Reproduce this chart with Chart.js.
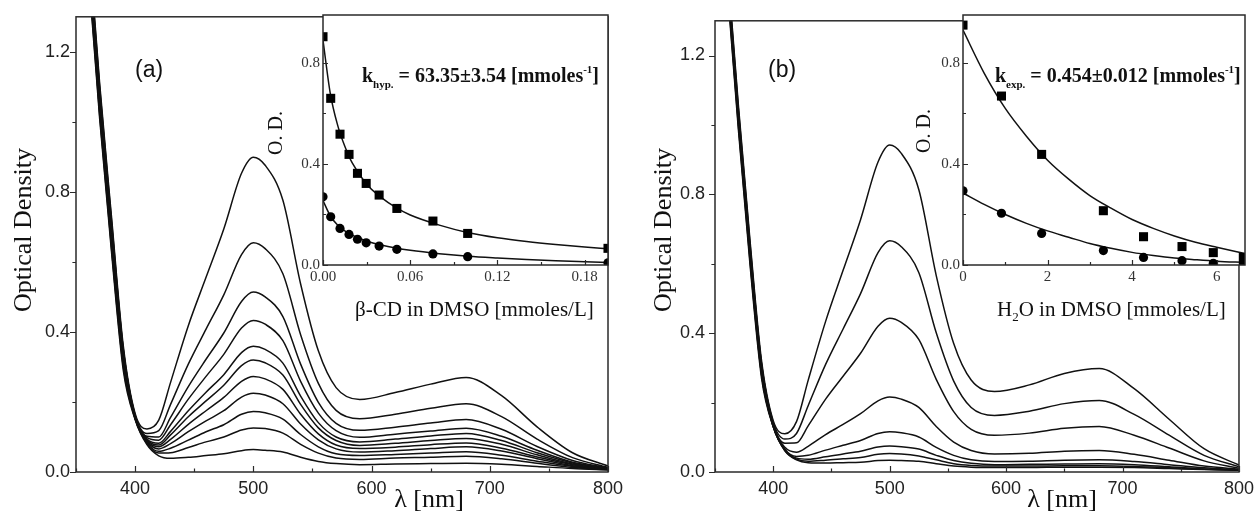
<!DOCTYPE html>
<html>
<head>
<meta charset="utf-8">
<script src="https://cdn.jsdelivr.net/npm/chart.js@4.4.1/dist/chart.umd.min.js"></script>
<style>
  body { margin: 0; background: #fff; }
  #wrap { position: relative; width: 1260px; height: 516px; background: #fff; }
  canvas { position: absolute; top: 0; }
</style>
</head>
<body>
<div id="wrap">
  <canvas id="mainA" width="630" height="516" style="left:0"></canvas>
  <canvas id="mainB" width="630" height="516" style="left:630px"></canvas>
  <canvas id="insetA" width="365" height="330" style="left:255px"></canvas>
  <canvas id="insetB" width="362" height="330" style="left:895px"></canvas>
</div>
<script>
// wavelengths (nm) shared by every spectrum
const lambda = [350, 360, 370, 380, 390, 400, 410, 420, 430, 445, 460, 475, 490, 500, 510, 525, 540, 555, 570, 590, 620, 650, 680, 710, 740, 770, 800];

// panel (a) spectra, top to bottom
const odA1 = [1.95, 1.55, 1.11, 0.73, 0.36, 0.167, 0.123, 0.148, 0.256, 0.418, 0.556, 0.694, 0.853, 0.899, 0.876, 0.776, 0.537, 0.346, 0.241, 0.207, 0.227, 0.251, 0.270, 0.218, 0.129, 0.055, 0.017];
const odA2 = [1.94, 1.54, 1.10, 0.72, 0.35, 0.163, 0.110, 0.118, 0.193, 0.308, 0.408, 0.506, 0.621, 0.655, 0.638, 0.566, 0.392, 0.253, 0.176, 0.152, 0.165, 0.182, 0.195, 0.158, 0.094, 0.041, 0.013];
const odA3 = [1.93, 1.53, 1.09, 0.71, 0.35, 0.160, 0.102, 0.100, 0.156, 0.244, 0.322, 0.397, 0.487, 0.514, 0.500, 0.444, 0.308, 0.199, 0.139, 0.119, 0.128, 0.140, 0.150, 0.122, 0.073, 0.033, 0.011];
const odA4 = [1.92, 1.52, 1.08, 0.70, 0.34, 0.158, 0.098, 0.091, 0.135, 0.208, 0.273, 0.336, 0.411, 0.433, 0.422, 0.375, 0.259, 0.168, 0.118, 0.099, 0.108, 0.117, 0.125, 0.102, 0.062, 0.028, 0.010];
const odA5 = [1.91, 1.51, 1.07, 0.69, 0.33, 0.157, 0.094, 0.082, 0.116, 0.175, 0.228, 0.278, 0.341, 0.359, 0.350, 0.311, 0.217, 0.141, 0.100, 0.086, 0.094, 0.103, 0.110, 0.090, 0.055, 0.026, 0.010];
const odA6 = [1.90, 1.50, 1.06, 0.68, 0.33, 0.156, 0.092, 0.077, 0.106, 0.158, 0.203, 0.248, 0.304, 0.320, 0.312, 0.277, 0.193, 0.126, 0.090, 0.076, 0.082, 0.090, 0.096, 0.079, 0.049, 0.023, 0.009];
const odA7 = [1.89, 1.49, 1.05, 0.67, 0.32, 0.155, 0.089, 0.072, 0.093, 0.136, 0.175, 0.213, 0.259, 0.273, 0.266, 0.236, 0.165, 0.109, 0.077, 0.067, 0.071, 0.078, 0.083, 0.068, 0.043, 0.021, 0.008];
const odA8 = [1.88, 1.48, 1.04, 0.66, 0.31, 0.154, 0.087, 0.066, 0.081, 0.115, 0.146, 0.175, 0.214, 0.225, 0.220, 0.195, 0.137, 0.092, 0.066, 0.057, 0.061, 0.067, 0.072, 0.060, 0.038, 0.018, 0.008];
const odA9 = [1.87, 1.47, 1.03, 0.65, 0.31, 0.153, 0.084, 0.059, 0.068, 0.091, 0.115, 0.135, 0.165, 0.173, 0.169, 0.151, 0.107, 0.072, 0.052, 0.047, 0.050, 0.054, 0.058, 0.048, 0.031, 0.016, 0.007];
const odA10 = [1.86, 1.46, 1.02, 0.64, 0.30, 0.152, 0.081, 0.054, 0.055, 0.070, 0.086, 0.100, 0.120, 0.126, 0.124, 0.111, 0.079, 0.054, 0.040, 0.036, 0.040, 0.042, 0.045, 0.038, 0.025, 0.013, 0.007];
const odA11 = [1.85, 1.45, 1.01, 0.63, 0.29, 0.150, 0.078, 0.046, 0.039, 0.042, 0.047, 0.052, 0.061, 0.064, 0.062, 0.057, 0.042, 0.030, 0.024, 0.021, 0.023, 0.024, 0.025, 0.022, 0.016, 0.010, 0.006];

// panel (b) spectra, top to bottom
const odB1 = [1.90, 1.49, 1.06, 0.67, 0.32, 0.148, 0.110, 0.145, 0.264, 0.434, 0.581, 0.727, 0.893, 0.942, 0.918, 0.814, 0.566, 0.370, 0.265, 0.232, 0.251, 0.284, 0.298, 0.240, 0.152, 0.067, 0.020];
const odB2 = [1.89, 1.48, 1.05, 0.66, 0.31, 0.143, 0.095, 0.111, 0.191, 0.310, 0.412, 0.514, 0.632, 0.666, 0.649, 0.575, 0.401, 0.262, 0.186, 0.163, 0.175, 0.197, 0.206, 0.166, 0.106, 0.048, 0.015];
const odB3 = [1.88, 1.47, 1.04, 0.65, 0.31, 0.139, 0.083, 0.084, 0.133, 0.210, 0.276, 0.342, 0.420, 0.443, 0.431, 0.382, 0.267, 0.174, 0.123, 0.106, 0.112, 0.126, 0.131, 0.106, 0.069, 0.032, 0.011];
const odB4 = [1.87, 1.46, 1.03, 0.64, 0.30, 0.134, 0.071, 0.057, 0.074, 0.108, 0.137, 0.168, 0.205, 0.216, 0.210, 0.186, 0.131, 0.086, 0.062, 0.052, 0.054, 0.060, 0.062, 0.051, 0.034, 0.017, 0.008];
const odB5 = [1.86, 1.45, 1.02, 0.63, 0.29, 0.132, 0.066, 0.045, 0.048, 0.063, 0.077, 0.091, 0.111, 0.116, 0.113, 0.101, 0.071, 0.048, 0.035, 0.030, 0.031, 0.034, 0.035, 0.030, 0.021, 0.012, 0.006];
const odB6 = [1.85, 1.44, 1.01, 0.62, 0.28, 0.131, 0.064, 0.040, 0.037, 0.044, 0.052, 0.060, 0.072, 0.075, 0.073, 0.066, 0.048, 0.033, 0.025, 0.021, 0.022, 0.023, 0.024, 0.021, 0.015, 0.009, 0.006];
const odB7 = [1.84, 1.43, 1.00, 0.61, 0.28, 0.131, 0.062, 0.037, 0.031, 0.034, 0.038, 0.042, 0.051, 0.053, 0.052, 0.046, 0.035, 0.024, 0.019, 0.017, 0.017, 0.018, 0.018, 0.016, 0.012, 0.008, 0.005];
const odB8 = [1.83, 1.42, 0.99, 0.60, 0.27, 0.130, 0.061, 0.035, 0.027, 0.026, 0.027, 0.028, 0.033, 0.034, 0.033, 0.031, 0.024, 0.017, 0.014, 0.013, 0.013, 0.014, 0.014, 0.013, 0.010, 0.007, 0.005];

const spectraA = [odA1, odA2, odA3, odA4, odA5, odA6, odA7, odA8, odA9, odA10, odA11];
const spectraB = [odB1, odB2, odB3, odB4, odB5, odB6, odB7, odB8];

// inset (a): beta-CD concentration, O.D. at ~500 nm (squares) and ~680 nm (circles)
const concA = [0, 0.0053, 0.0117, 0.0179, 0.0237, 0.0297, 0.0386, 0.0508, 0.0756, 0.0995, 0.196];
const squaresA = [0.904, 0.660, 0.518, 0.438, 0.363, 0.323, 0.277, 0.224, 0.174, 0.125, 0.066];
const circlesA = [0.270, 0.191, 0.145, 0.121, 0.102, 0.088, 0.075, 0.062, 0.044, 0.033, 0.009];
const fitXA = [0, 0.005, 0.01, 0.015, 0.02, 0.03, 0.04, 0.05, 0.06, 0.08, 0.10, 0.12, 0.14, 0.16, 0.18, 0.196];
const fitSqA = [0.89, 0.68, 0.555, 0.47, 0.405, 0.32, 0.268, 0.228, 0.198, 0.158, 0.128, 0.108, 0.093, 0.081, 0.071, 0.064];
const fitCiA = [0.255, 0.195, 0.158, 0.135, 0.118, 0.095, 0.079, 0.067, 0.058, 0.045, 0.035, 0.028, 0.022, 0.017, 0.013, 0.010];

// inset (b): water concentration
const concB = [0, 0.91, 1.86, 3.32, 4.27, 5.18, 5.92, 6.63];
const squaresB = [0.95, 0.669, 0.438, 0.215, 0.112, 0.073, 0.049, 0.030];
const circlesB = [0.294, 0.205, 0.125, 0.057, 0.030, 0.017, 0.007, 0.005];
const fitXB = [0, 0.5, 1, 1.5, 2, 2.5, 3, 3.5, 4, 4.5, 5, 5.5, 6, 6.67];
const fitSqB = [0.93, 0.76, 0.62, 0.51, 0.415, 0.34, 0.275, 0.225, 0.18, 0.145, 0.115, 0.09, 0.07, 0.045];
const fitCiB = [0.285, 0.24, 0.20, 0.165, 0.135, 0.11, 0.085, 0.066, 0.05, 0.038, 0.028, 0.021, 0.015, 0.01];

// tick labels
const mainXLabels = [400, 500, 600, 700, 800];
const mainYLabels = ['0.0', '0.4', '0.8', '1.2'];
const insetYLabels = ['0.0', '0.4', '0.8'];
const insetXLabelsA = ['0.00', '0.06', '0.12', '0.18'];
const insetXLabelsB = ['0', '2', '4', '6'];

const SANS = 'Liberation Sans, Arial, sans-serif';
const SERIF = 'Liberation Serif, Times New Roman, serif';

function pts(xs, ys) {
    return xs.map((x, i) => ({ x: x, y: ys[i] }));
}

// frame, tick marks and free text
const boxTicks = {
    id: 'boxTicks',
    beforeDraw(chart, args, o) {
        if (!o.fill) return;
        const a = chart.chartArea;
        chart.ctx.save();
        chart.ctx.fillStyle = '#fff';
        chart.ctx.fillRect(a.left, a.top, a.right - a.left, a.bottom - a.top);
        chart.ctx.restore();
    },
    afterDraw(chart, args, o) {
        const { ctx, chartArea: a } = chart;
        const xs = chart.scales.x, ys = chart.scales.y;
        ctx.save();
        ctx.strokeStyle = '#2a2a2a';
        ctx.lineWidth = 1.5;
        ctx.strokeRect(a.left, a.top, a.right - a.left, a.bottom - a.top);
        ctx.lineWidth = 1.2;
        ctx.beginPath();
        xs.ticks.forEach(t => {
            const px = Math.round(xs.getPixelForValue(t.value)) + 0.5;
            const len = t.label ? o.len : o.len * 0.6;
            ctx.moveTo(px, a.bottom);
            ctx.lineTo(px, a.bottom - len * o.xDir);
        });
        ys.ticks.forEach(t => {
            const py = Math.round(ys.getPixelForValue(t.value)) + 0.5;
            const len = t.label ? o.len : o.len * 0.6;
            ctx.moveTo(a.left, py);
            ctx.lineTo(a.left + len * o.yDir, py);
        });
        ctx.stroke();

        ctx.fillStyle = '#111';
        (o.texts || []).forEach(t => {
            ctx.save();
            ctx.translate(t.x, t.y);
            if (t.rot) ctx.rotate(t.rot);
            ctx.textBaseline = t.baseline || 'alphabetic';
            if (t.parts) {
                ctx.textAlign = 'left';
                let x = 0;
                t.parts.forEach(p => {
                    ctx.font = p[1];
                    ctx.fillText(p[0], x, p[2] || 0);
                    x += ctx.measureText(p[0]).width;
                });
            } else {
                ctx.textAlign = t.align || 'left';
                ctx.font = t.font;
                ctx.fillText(t.text, 0, 0);
            }
            ctx.restore();
        });
        ctx.restore();
    }
};

function mainChart(id, spectra, yWidth, padRight, yPad, texts) {
    return new Chart(document.getElementById(id), {
        type: 'line',
        data: {
            datasets: spectra.map(s => ({
                data: pts(lambda, s),
                borderColor: '#111',
                borderWidth: 1.5,
                pointRadius: 0,
                cubicInterpolationMode: 'monotone',
                fill: false
            }))
        },
        options: {
            responsive: false,
            animation: false,
            events: [],
            layout: { padding: { top: 14, right: padRight, left: 0, bottom: 0 } },
            plugins: {
                legend: { display: false },
                tooltip: { enabled: false },
                boxTicks: { len: 6, xDir: 1, yDir: -1, texts: texts }
            },
            scales: {
                x: {
                    type: 'linear', min: 350, max: 800,
                    afterFit: s => { s.height = 44; },
                    grid: { display: false, drawTicks: false },
                    border: { display: false },
                    ticks: {
                        stepSize: 50, includeBounds: false, autoSkip: false, maxRotation: 0, padding: 6,
                        color: '#222', font: { family: SANS, size: 18 },
                        callback: v => mainXLabels.includes(Math.round(v)) ? String(Math.round(v)) : ''
                    }
                },
                y: {
                    min: 0, max: 1.3,
                    afterFit: s => { s.width = yWidth; },
                    grid: { display: false, drawTicks: false },
                    border: { display: false },
                    ticks: {
                        stepSize: 0.2, includeBounds: false, autoSkip: false, padding: yPad,
                        color: '#222', font: { family: SANS, size: 18 },
                        callback: v => mainYLabels.includes(v.toFixed(1)) ? v.toFixed(1) : ''
                    }
                }
            }
        },
        plugins: [boxTicks]
    });
}

function insetChart(id, conc, sq, ci, fx, fsq, fci, xMax, xStep, xLabels, xFmt, texts) {
    const line = ys => ({
        data: pts(fx, ys), borderColor: '#111', borderWidth: 1.5, pointRadius: 0,
        cubicInterpolationMode: 'monotone', fill: false
    });
    return new Chart(document.getElementById(id), {
        type: 'line',
        data: {
            datasets: [
                { data: pts(conc, sq), showLine: false, pointStyle: 'rect', pointRadius: 6.4,
                  backgroundColor: '#000', borderColor: '#000', borderWidth: 0 },
                { data: pts(conc, ci), showLine: false, pointStyle: 'circle', pointRadius: 4.6,
                  backgroundColor: '#000', borderColor: '#000', borderWidth: 0 },
                line(fsq),
                line(fci)
            ]
        },
        options: {
            responsive: false,
            animation: false,
            events: [],
            layout: { padding: { top: 15, right: 12, left: 0, bottom: 0 } },
            plugins: {
                legend: { display: false },
                tooltip: { enabled: false },
                boxTicks: { fill: true, len: 5, xDir: 1, yDir: 1, texts: texts }
            },
            scales: {
                x: {
                    type: 'linear', min: 0, max: xMax,
                    afterFit: s => { s.height = 65; },
                    grid: { display: false, drawTicks: false },
                    border: { display: false },
                    ticks: {
                        stepSize: xStep, includeBounds: false, autoSkip: false, maxRotation: 0, padding: 3,
                        color: '#333', font: { family: SERIF, size: 15 },
                        callback: v => xLabels.includes(xFmt(v)) ? xFmt(v) : ''
                    }
                },
                y: {
                    min: 0, max: 0.99,
                    afterFit: s => { s.width = 68; },
                    grid: { display: false, drawTicks: false },
                    border: { display: false },
                    ticks: {
                        stepSize: 0.2, includeBounds: false, autoSkip: false, padding: 3,
                        color: '#333', font: { family: SERIF, size: 15 },
                        callback: v => insetYLabels.includes(v.toFixed(1)) ? v.toFixed(1) : ''
                    }
                }
            }
        },
        plugins: [boxTicks]
    });
}

const BIG = '26px ' + SERIF;
const BOLD = 'bold 20px ' + SERIF;
const BOLD_S = 'bold 11px ' + SERIF;

mainChart('mainA', spectraA, 76, 22, 6, [
    { text: '(a)', x: 135, y: 77, font: '23px ' + SANS },
    { text: 'Optical Density', x: 24, y: 230, rot: -Math.PI / 2, align: 'center', baseline: 'middle', font: BIG },
    { text: 'λ [nm]', x: 429, y: 507, align: 'center', font: BIG }
]);

mainChart('mainB', spectraB, 85, 15, 10, [
    { text: '(b)', x: 138, y: 77, font: '23px ' + SANS },
    { text: 'Optical Density', x: 34, y: 230, rot: -Math.PI / 2, align: 'center', baseline: 'middle', font: BIG },
    { text: 'λ [nm]', x: 432, y: 507, align: 'center', font: BIG }
]);

insetChart('insetA', concA, squaresA, circlesA, fitXA, fitSqA, fitCiA, 0.196, 0.03, insetXLabelsA,
    v => v.toFixed(2), [
    { text: 'O. D.', x: 22, y: 133, rot: -Math.PI / 2, align: 'center', baseline: 'middle', font: '20px ' + SERIF },
    { text: 'β-CD in DMSO [mmoles/L]', x: 100, y: 316, font: '21px ' + SERIF },
    { x: 107, y: 82, parts: [['k', BOLD], ['hyp.', BOLD_S, 6], [' = 63.35±3.54 [mmoles', BOLD], ['-1', BOLD_S, -9], [']', BOLD]] }
]);

insetChart('insetB', concB, squaresB, circlesB, fitXB, fitSqB, fitCiB, 6.67, 1, insetXLabelsB,
    v => String(Math.round(v)), [
    { text: 'O. D.', x: 30, y: 131, rot: -Math.PI / 2, align: 'center', baseline: 'middle', font: '20px ' + SERIF },
    { x: 102, y: 316, parts: [['H', '21px ' + SERIF], ['2', '13px ' + SERIF, 5], ['O in DMSO [mmoles/L]', '21px ' + SERIF]] },
    { x: 100, y: 82, parts: [['k', BOLD], ['exp.', BOLD_S, 6], [' = 0.454±0.012 [mmoles', BOLD], ['-1', BOLD_S, -9], [']', BOLD]] }
]);
</script>
</body>
</html>
